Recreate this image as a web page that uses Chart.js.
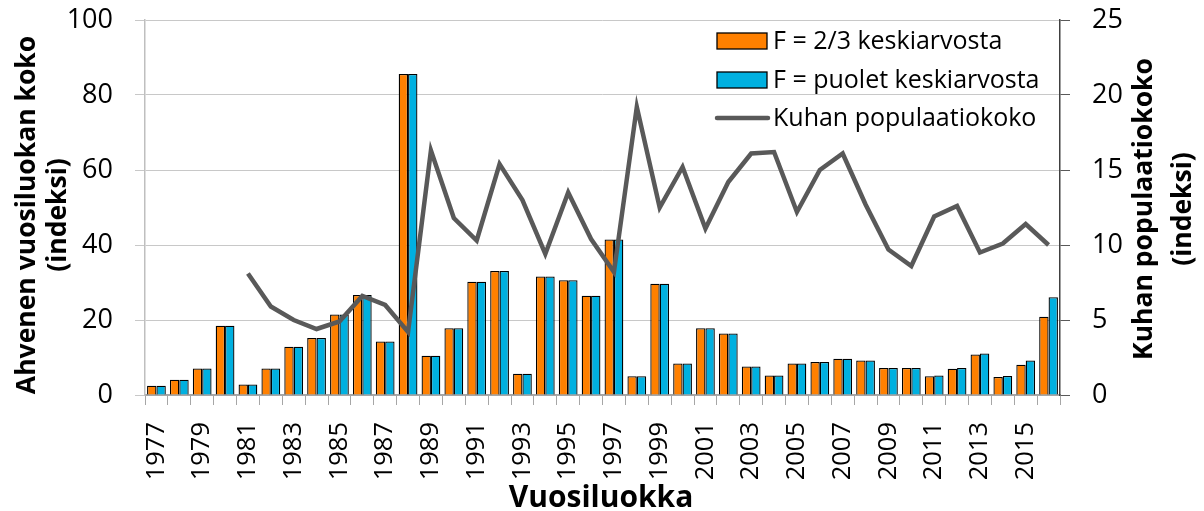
<!DOCTYPE html>
<html>
<head>
<meta charset="utf-8">
<script src="https://cdn.jsdelivr.net/npm/chart.js@4"></script>
<style>
  html, body { margin: 0; padding: 0; background: #fff; }
  #wrap { width: 1204px; height: 511px; }
</style>
</head>
<body>
<div id="wrap"><canvas id="perchChart" width="1204" height="511"></canvas></div>
<script>
const years = ["1977", "1978", "1979", "1980", "1981", "1982", "1983", "1984", "1985", "1986",
    "1987", "1988", "1989", "1990", "1991", "1992", "1993", "1994", "1995", "1996",
    "1997", "1998", "1999", "2000", "2001", "2002", "2003", "2004", "2005", "2006",
    "2007", "2008", "2009", "2010", "2011", "2012", "2013", "2014", "2015", "2016"];

// perch year-class size, fishing mortality at 2/3 of the mean
const perchTwoThirds = [2.5, 4.1, 7.1, 18.5, 2.8, 7.1, 12.9, 15.2, 21.5, 26.7,
    14.3, 85.6, 10.5, 17.8, 30.2, 33.1, 5.7, 31.6, 30.6, 26.5,
    41.5, 5.0, 29.7, 8.4, 17.8, 16.4, 7.6, 5.2, 8.4, 8.8,
    9.7, 9.2, 7.2, 7.2, 5.0, 7.0, 10.8, 4.8, 8.1, 20.9];

// perch year-class size, fishing mortality at half of the mean
const perchHalf = [2.5, 4.1, 7.1, 18.5, 2.8, 7.1, 12.9, 15.2, 21.5, 26.7,
    14.3, 85.6, 10.5, 17.8, 30.2, 33.1, 5.7, 31.6, 30.6, 26.5,
    41.5, 5.0, 29.7, 8.4, 17.8, 16.4, 7.6, 5.2, 8.4, 8.8,
    9.7, 9.2, 7.2, 7.2, 5.2, 7.2, 11.1, 5.1, 9.2, 26.1];

// pikeperch population size (right axis), starts 1981
const pikeperch = [null, null, null, null, 8.1, 5.9, 5.0, 4.4, 4.9, 6.6,
    6.0, 4.2, 16.3, 11.8, 10.3, 15.4, 13.0, 9.4, 13.5, 10.4,
    8.2, 19.2, 12.5, 15.2, 11.1, 14.2, 16.1, 16.2, 12.2, 15.0,
    16.1, 12.7, 9.7, 8.6, 11.9, 12.6, 9.5, 10.1, 11.4, 10.0];

const leftTicks = [0, 20, 40, 60, 80, 100];
const rightTicks = [0, 5, 10, 15, 20, 25];

const ORANGE = "#ff8000";
const CYAN = "#00b0e0";
const LINE = "#595959";
const FONT = "'Open Sans', 'Noto Sans', sans-serif";

// axis titles and legend drawn straight onto the canvas
const decorations = {
    id: "decorations",
    afterDraw(chart) {
        const ctx = chart.ctx;
        ctx.save();
        ctx.fillStyle = "#000";
        ctx.textAlign = "center";
        ctx.textBaseline = "middle";

        ctx.font = "bold 26.5px " + FONT;
        const rotated = (x, y, lines, gap) => {
            ctx.save();
            ctx.translate(x, y);
            ctx.rotate(-Math.PI / 2);
            lines.forEach((t, i) => ctx.fillText(t, 0, i * gap));
            ctx.restore();
        };
        rotated(27, 215, ["Ahvenen vuosiluokan koko", "(indeksi)"], 31);
        rotated(1144, 209, ["Kuhan populaatiokoko", "(indeksi)"], 39);

        ctx.font = "bold 30px " + FONT;
        ctx.fillText("Vuosiluokka", 601, 498);

        // legend
        const items = [
            { label: chart.data.datasets[0].label, color: ORANGE, y: 41 },
            { label: chart.data.datasets[1].label, color: CYAN, y: 80 },
            { label: chart.data.datasets[2].label, color: null, y: 118 }
        ];
        ctx.font = "25px " + FONT;
        ctx.textAlign = "left";
        items.forEach(it => {
            if (it.color) {
                ctx.fillStyle = it.color;
                ctx.fillRect(717, it.y - 8, 50, 16);
                ctx.strokeStyle = "#000";
                ctx.lineWidth = 1.3;
                ctx.strokeRect(717, it.y - 8, 50, 16);
            } else {
                ctx.strokeStyle = LINE;
                ctx.lineWidth = 4.5;
                ctx.lineCap = "round";
                ctx.beginPath();
                ctx.moveTo(717, it.y);
                ctx.lineTo(768, it.y);
                ctx.stroke();
            }
            ctx.fillStyle = "#000";
            ctx.fillText(it.label, 773, it.y + 1);
        });
        ctx.restore();
    }
};

// keep the value axes from adding label overflow to the plot margins
function fixWidth(w) {
    return function (scale) {
        scale.width = w;
        scale.paddingTop = 0;
        scale.paddingBottom = 0;
    };
}

const ctx = document.getElementById("perchChart").getContext("2d");
const perchChart = new Chart(ctx, {
    type: "bar",
    data: {
        labels: years,
        datasets: [
            {
                label: "F = 2/3 keskiarvosta",
                data: perchTwoThirds,
                backgroundColor: ORANGE,
                borderColor: "#000",
                borderWidth: 1.3,
                yAxisID: "y",
                order: 1,
            },
            {
                label: "F = puolet keskiarvosta",
                data: perchHalf,
                backgroundColor: CYAN,
                borderColor: "#000",
                borderWidth: 1.3,
                yAxisID: "y",
                order: 1,
            },
            {
                type: "line",
                label: "Kuhan populaatiokoko",
                data: pikeperch,
                borderColor: LINE,
                borderWidth: 4.5,
                pointRadius: 0,
                tension: 0,
                spanGaps: false,
                yAxisID: "y2",
                order: 0,
            },
        ],
    },
    options: {
        responsive: false,
        animation: false,
        datasets: {
            bar: { categoryPercentage: 0.82, barPercentage: 1.0 }
        },
        layout: { padding: { top: 20, left: 0, right: 0, bottom: 0 } },
        plugins: {
            legend: { display: false },
            tooltip: { enabled: false },
        },
        scales: {
            x: {
                offset: true,
                grid: {
                    offset: true,
                    drawOnChartArea: false,
                    tickLength: 10,
                    color: "#a6a6a6",
                },
                border: { color: "#a6a6a6", width: 2 },
                ticks: {
                    autoSkip: false,
                    minRotation: 90,
                    maxRotation: 90,
                    padding: 17,
                    color: "#000",
                    font: { family: FONT, size: 25.5 },
                    callback: function (value, index) {
                        return index % 2 === 0 ? years[index] : "";
                    },
                },
                afterFit(scale) {
                    scale.height = 116;
                    scale.paddingLeft = 0;
                    scale.paddingRight = 0;
                },
            },
            y: {
                position: "left",
                min: 0,
                max: 100,
                afterBuildTicks(scale) { scale.ticks = leftTicks.map(v => ({ value: v })); },
                grid: { color: "#c8c8c8", tickLength: 10 },
                border: { color: "#bfbfbf", width: 1.5 },
                ticks: {
                    padding: 22,
                    color: "#000",
                    font: { family: FONT, size: 27 },
                },
                afterFit: fixWidth(145),
            },
            y2: {
                position: "right",
                min: 0,
                max: 25,
                afterBuildTicks(scale) { scale.ticks = rightTicks.map(v => ({ value: v })); },
                grid: { drawOnChartArea: false, color: "#595959", tickLength: 10 },
                border: { color: "#404040", width: 1.5 },
                ticks: {
                    padding: 22,
                    color: "#000",
                    font: { family: FONT, size: 27 },
                },
                afterFit: fixWidth(144),
            },
        },
    },
    plugins: [decorations],
});
</script>
</body>
</html>
